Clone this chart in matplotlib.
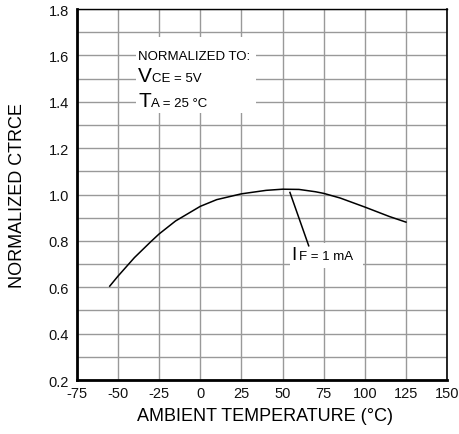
import matplotlib
matplotlib.use("Agg")
from matplotlib import pyplot as plt
from matplotlib.patches import Rectangle

# curve (IF = 1 mA)
temps = [-55, -50, -40, -30, -25, -15, 0, 10, 25, 40, 50, 60, 70, 75, 85, 100, 115, 125]
ctr = [0.605, 0.648, 0.728, 0.797, 0.83, 0.886, 0.949, 0.978, 1.003, 1.018, 1.023,
       1.022, 1.012, 1.005, 0.985, 0.946, 0.905, 0.881]

x_ticks = [-75, -50, -25, 0, 25, 50, 75, 100, 125, 150]
y_ticks = [0.2, 0.4, 0.6, 0.8, 1.0, 1.2, 1.4, 1.6, 1.8]
y_minor = [0.3, 0.5, 0.7, 0.9, 1.1, 1.3, 1.5, 1.7]

plt.rcParams['font.family'] = ['Liberation Sans', 'DejaVu Sans']
plt.rcParams['axes.unicode_minus'] = False

fig = plt.figure(figsize=(4.6, 4.35), dpi=100)
ax = fig.add_axes([0.167, 0.124, 0.805, 0.853])

ax.set_xlim(-75, 150)
ax.set_ylim(0.2, 1.8)
ax.set_xticks(x_ticks)
ax.set_xticklabels([str(t) for t in x_ticks])
ax.set_yticks(y_ticks)
ax.set_yticklabels(["%.1f" % t for t in y_ticks])
ax.set_yticks(y_minor, minor=True)
ax.tick_params(which='both', length=0, labelsize=10.5, colors='#111111')
ax.tick_params(axis='y', pad=5.5)
ax.tick_params(axis='x', pad=4)

ax.grid(True, which='both', color='#999999', linewidth=1.0)
ax.set_axisbelow(True)

ax.spines['left'].set_linewidth(2.0)
ax.spines['bottom'].set_linewidth(2.0)
ax.spines['top'].set_linewidth(1.0)
ax.spines['right'].set_linewidth(1.2)

# white boxes behind the notes
ax.add_patch(Rectangle((-38.8, 1.351), 72.4, 0.328, facecolor='white',
                       edgecolor='none', zorder=1.5))
ax.add_patch(Rectangle((54.5, 0.683), 44.6, 0.107, facecolor='white',
                       edgecolor='none', zorder=1.5))

ax.plot(temps, ctr, color='black', linewidth=1.1, zorder=3)

# leader from curve to label
ax.plot([54.5, 65.9], [1.009, 0.779], color='black', linewidth=1.1, zorder=3)

ax.text(-37.6, 1.584, "NORMALIZED TO:", fontsize=9.5, va='baseline', zorder=4)
tv = ax.text(-37.6, 1.491, "V", fontsize=15, va='baseline', zorder=4)
ax.annotate("CE = 5V", xy=(1, 1.491), xycoords=(tv, 'data'), fontsize=9.5,
            va='baseline', zorder=4)
tt = ax.text(-37.6, 1.383, "T", fontsize=15, va='baseline', zorder=4)
ax.annotate("A = 25 °C", xy=(1, 1.383), xycoords=(tt, 'data'), fontsize=9.5,
            va='baseline', zorder=4)
ti = ax.text(55.3, 0.722, "I", fontsize=13.5, va='baseline', zorder=4)
ax.annotate("F = 1 mA", xy=(1, 0.722), xycoords=(ti, 'data'), xytext=(2, 0),
            textcoords='offset points', fontsize=9.5, va='baseline', zorder=4)

ax.set_xlabel("AMBIENT TEMPERATURE (°C)", fontsize=13)
ax.set_ylabel("NORMALIZED CTRCE", fontsize=13)
ax.xaxis.set_label_coords(0.508, -0.072)
ax.yaxis.set_label_coords(-0.137, 0.5)

fig.savefig("out.png", dpi=100)
